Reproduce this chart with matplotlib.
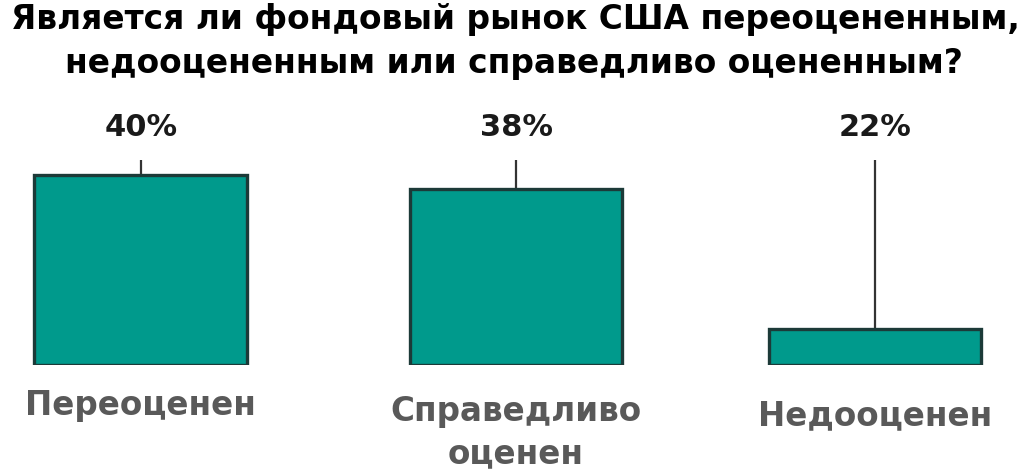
import matplotlib
matplotlib.use("Agg")
import matplotlib.pyplot as plt

# ---- data ----
title_lines = ["Является ли фондовый рынок США переоцененным,",
               "недооцененным или справедливо оцененным?"]
categories = ["Переоценен", "Справедливо\nоценен", "Недооценен"]
percent_labels = ["40%", "38%", "22%"]
bar_heights = [40, 37, 7.6]          # heights as drawn in the picture

# ---- layout ----
x_pos = [0, 1.022, 2]
bar_width = 0.58
leader_top = 43.2
label_y = 49.9
cat_y = [-8.6, -14.2, -10.6]

teal = "#009a8c"
edge = "#1c3a38"
FONT = "DejaVu Sans"

fig = plt.figure(figsize=(10.28, 4.71), dpi=100)
fig.patch.set_facecolor("white")
ax = fig.add_axes([0, 0.225, 1, 0.775])
ax.set_xlim(-0.384, 2.417)
ax.set_ylim(0, 76.84)
ax.axis("off")

ax.bar(x_pos, bar_heights, width=bar_width, color=teal, edgecolor=edge,
       linewidth=2.4, zorder=2)
for x, h, lab, cat, cy in zip(x_pos, bar_heights, percent_labels, categories, cat_y):
    ax.plot([x, x], [h, leader_top], color="#333333", lw=1.6, zorder=1,
            solid_capstyle="butt")
    ax.text(x, label_y, lab, ha="center", va="center", fontsize=22,
            fontweight="bold", family=FONT, color="#1a1a1a")
    ax.text(x, cy, cat, ha="center", va="center", fontsize=23.5,
            fontweight="bold", family=FONT, color="#595959",
            linespacing=1.35, clip_on=False)

fig.text(0.501, 1 - 20 / 471, title_lines[0], ha="center", va="center",
         fontsize=23.7, fontweight="bold", family=FONT, color="black")
fig.text(0.5, 1 - 64 / 471, title_lines[1], ha="center", va="center",
         fontsize=23.7, fontweight="bold", family=FONT, color="black")

fig.savefig("out.png", dpi=100, facecolor="white")
